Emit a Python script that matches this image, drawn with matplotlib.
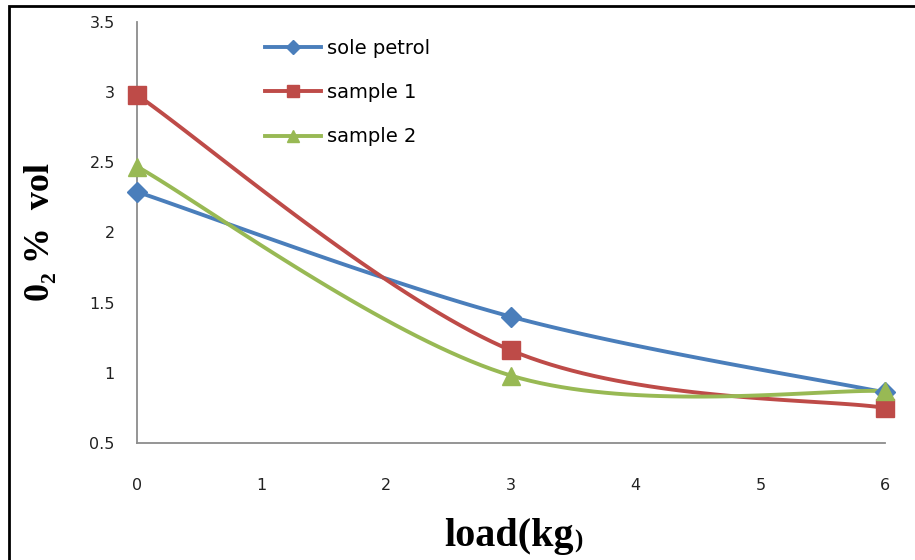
import numpy as np
import matplotlib
matplotlib.use("Agg")
import matplotlib.pyplot as plt
from matplotlib.patches import Rectangle

# data
load = [0, 3, 6]
sole_petrol = [2.29, 1.40, 0.86]
sample_1 = [2.98, 1.16, 0.75]
sample_2 = [2.47, 0.98, 0.87]
names = ["sole petrol", "sample 1", "sample 2"]
y_ticks = [0.5, 1, 1.5, 2, 2.5, 3, 3.5]
y_labels = ["0.5", "1", "1.5", "2", "2.5", "3", "3.5"]
x_ticks = [0, 1, 2, 3, 4, 5, 6]


def smooth(xs, ys, n=40):
    # excel-like smoothed line (catmull-rom as cubic bezier)
    p = np.column_stack([xs, ys]).astype(float)
    p = np.vstack([p[0], p, p[-1]])
    out = []
    t = np.linspace(0, 1, n)[:, None]
    for i in range(1, len(p) - 2):
        a = p[i]
        b = p[i + 1]
        c1 = a + (p[i + 1] - p[i - 1]) / 6
        c2 = b - (p[i + 2] - p[i]) / 6
        seg = (1 - t) ** 3 * a + 3 * (1 - t) ** 2 * t * c1 + 3 * (1 - t) * t ** 2 * c2 + t ** 3 * b
        out.append(seg if i == 1 else seg[1:])
    out = np.vstack(out)
    return out[:, 0], out[:, 1]


fig = plt.figure(figsize=(9.15, 5.6), dpi=100)
ax = fig.add_axes([0.1497, 0.209, 0.8175, 0.7517])

colors = ["#4A7EBB", "#BE4B48", "#98B954"]
markers = ["D", "s", "^"]
msizes = [10, 12.5, 12.5]
series = [sole_petrol, sample_1, sample_2]

handles = []
for ys, c, m, ms, nm in zip(series, colors, markers, msizes, names):
    sx, sy = smooth(load, ys)
    ax.plot(sx, sy, color=c, lw=2.8, solid_capstyle="round", zorder=2)
    ax.plot(load, ys, ls="none", marker=m, ms=ms, color=c, zorder=3, clip_on=False)
    h, = ax.plot([], [], color=c, lw=2.8, marker=m, ms=ms * 0.72)
    handles.append(h)

ax.set_xlim(0, 6)
ax.set_ylim(0.5, 3.5)
ax.set_xticks(x_ticks)
ax.set_yticks(y_ticks)
ax.set_yticklabels(y_labels)
for s in ["top", "right"]:
    ax.spines[s].set_visible(False)
for s in ["left", "bottom"]:
    ax.spines[s].set_color("#8c8c8c")
    ax.spines[s].set_linewidth(1.3)
ax.tick_params(length=0, labelsize=11.5, colors="#222222", labelfontfamily="DejaVu Sans")
ax.tick_params(axis="x", pad=25)
ax.tick_params(axis="y", pad=16)

leg = ax.legend(handles, names, loc="upper left", bbox_to_anchor=(0.171, 0.96),
                frameon=False, handlelength=2.9, labelspacing=1.3,
                handletextpad=0.3, borderpad=0, borderaxespad=0,
                prop={"family": "DejaVu Sans", "size": 14})

fig.text(0.044, 0.586, "0\u2082 %  vol", rotation=90, ha="center", va="center",
         fontsize=26, fontweight="bold", family=["Liberation Serif", "DejaVu Serif"])
fig.text(0.627, 0.042, "load(kg", ha="right", va="center",
         fontsize=29, fontweight="bold", family="Liberation Serif")
fig.text(0.627, 0.033, ")", ha="left", va="center",
         fontsize=18, fontweight="bold", family="Liberation Serif")

# frame of the original picture
fig.patches.append(Rectangle((9 / 915, -0.1), 1.2, 1 - 6 / 560 + 0.1, transform=fig.transFigure,
                             fill=False, edgecolor="black", lw=2, zorder=10))

fig.savefig("out.png", dpi=100)
